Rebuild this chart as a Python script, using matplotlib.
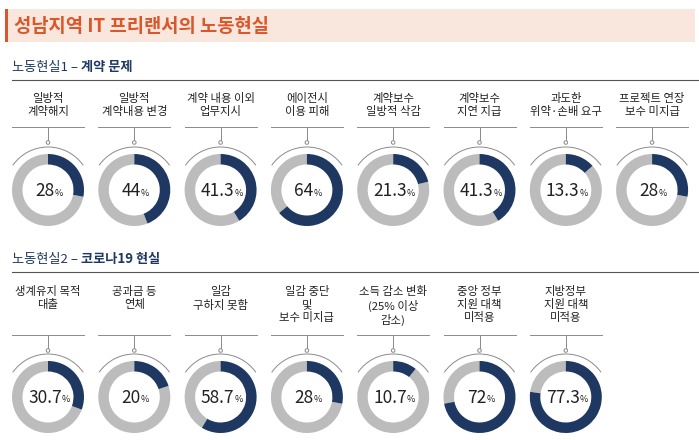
import matplotlib
matplotlib.use('Agg')
import matplotlib.pyplot as plt
from matplotlib.patches import Wedge, Arc, Rectangle, Circle

plt.rcParams['font.family'] = ['Noto Sans CJK KR', 'DejaVu Sans']

# ==================== DATA ====================
title = '성남지역 IT 프리랜서의 노동현실'
sec1_head, sec1_bold = '노동현실1 – ', '계약 문제'
sec1_labels = ['일방적\n계약해지', '일방적\n계약내용 변경', '계약 내용 이외\n업무지시', '에이전시\n이용 피해',
               '계약보수\n일방적 삭감', '계약보수\n지연 지급', '과도한\n위약·손배 요구', '프로젝트 연장\n보수 미지급']
sec1_values = [28, 44, 41.3, 64, 21.3, 41.3, 13.3, 28]
sec2_head, sec2_bold = '노동현실2 – ', '코로나19 현실'
sec2_labels = ['생계유지 목적\n대출', '공과금 등\n연체', '일감\n구하지 못함', '일감 중단\n및\n보수 미지급',
               '소득 감소 변화\n(25% 이상\n감소)', '중앙 정부\n지원 대책\n미적용', '지방정부\n지원 대책\n미적용']
sec2_values = [30.7, 20, 58.7, 28, 10.7, 72, 77.3]

NAVY = '#1e3862'
GRAY = '#bcbcbc'
LINE = '#8a8a8a'

fig = plt.figure(figsize=(6.99, 4.40), dpi=100)
ax = fig.add_axes([0, 0, 1, 1])
ax.set_xlim(0, 699)
ax.set_ylim(440, 0)
ax.axis('off')

# title band
ax.add_patch(Rectangle((5, 9), 690, 33, color='#f9e7dd', lw=0))
ax.add_patch(Rectangle((5, 9), 3, 33, color='#d9572b', lw=0))
ax.text(14, 26, title, color='#d9572b', fontsize=13.5, fontweight='bold', va='center')

fig.canvas.draw()
inv = ax.transData.inverted()


def width_of(t):
    bb = t.get_window_extent()
    x0 = inv.transform((bb.x0, bb.y0))[0]
    x1 = inv.transform((bb.x1, bb.y0))[0]
    return x1 - x0


def section(head, bold, labels, values, y_head, y_label, y_line, cy):
    t = ax.text(12, y_head, head, fontsize=9.5, color='#1e3862', va='center')
    ax.text(12 + width_of(t), y_head, bold, fontsize=9.5, color='#1e3862', va='center', fontweight='bold')
    ax.plot([12, 699], [y_head + 13, y_head + 13], color='#555555', lw=0.8)
    for i, (lab, v) in enumerate(zip(labels, values)):
        cx = 48 + i * 86.3
        ax.text(cx, y_label, lab, fontsize=8.2, ha='center', va='top', color='#222222', linespacing=1.25)
        ax.plot([cx - 36, cx + 36], [y_line, y_line], color=LINE, lw=0.7)
        ax.plot([cx, cx], [y_line, y_line + 14], color=LINE, lw=0.7)
        ax.add_patch(Circle((cx, y_line + 15.5), 1.8, fc='white', ec=LINE, lw=0.7, zorder=3))
        ax.add_patch(Arc((cx, cy), 86, 86, theta1=215, theta2=325, color=LINE, lw=0.7))
        ang = 360 * v / 100
        # y axis is inverted, so angles run clockwise on screen
        ax.add_patch(Wedge((cx, cy), 36, 270 + ang, 270 + 360, width=10.5, fc=GRAY, lw=0))
        ax.add_patch(Wedge((cx, cy), 36, 270, 270 + ang, width=10.5, fc=NAVY, lw=0))
        num = ax.text(cx, cy + 1, f'{v:g}', fontsize=12.5, ha='center', va='center', color='#222222')
        w = width_of(num)
        num.set_x(cx - 3)
        ax.text(cx - 3 + w / 2, cy + 3, '%', fontsize=6.5, ha='left', va='center', color='#222222')


section(sec1_head, sec1_bold, sec1_labels, sec1_values, 67, 93, 127, 190)
section(sec2_head, sec2_bold, sec2_labels, sec2_values, 259, 286, 335, 397)

fig.savefig('out.png', dpi=100)
